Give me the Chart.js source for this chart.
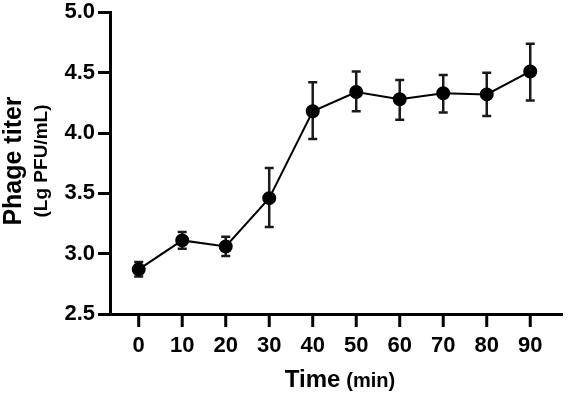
<!DOCTYPE html>
<html>
<head>
<meta charset="utf-8">
<script src="https://cdn.jsdelivr.net/npm/chart.js@4/dist/chart.umd.min.js"></script>
<style>
  html, body { margin: 0; padding: 0; background: #fff; }
  #wrap { width: 570px; height: 396px; position: relative; }
</style>
</head>
<body>
<div id="wrap"><canvas id="titerChart"></canvas></div>
<script>
const times = [0, 10, 20, 30, 40, 50, 60, 70, 80, 90];
const titer = [2.87, 3.11, 3.06, 3.46, 4.18, 4.34, 4.28, 4.33, 4.32, 4.51];
const errLow = [2.81, 3.04, 2.98, 3.22, 3.95, 4.18, 4.11, 4.17, 4.14, 4.27];
const errHigh = [2.93, 3.18, 3.14, 3.71, 4.42, 4.51, 4.44, 4.48, 4.50, 4.74];
const yTicks = [2.5, 3.0, 3.5, 4.0, 4.5, 5.0];

const FONT = '"Liberation Sans", Arial, sans-serif';

const errorBars = {
  id: 'errorBars',
  beforeDatasetsDraw(chart) {
    const { ctx, scales: { x, y } } = chart;
    ctx.save();
    ctx.strokeStyle = '#1a1a1a';
    ctx.lineWidth = 2.5;
    times.forEach((t, i) => {
      const px = x.getPixelForValue(t);
      const lo = y.getPixelForValue(errLow[i]);
      const hi = y.getPixelForValue(errHigh[i]);
      ctx.beginPath();
      ctx.moveTo(px, lo); ctx.lineTo(px, hi);
      ctx.moveTo(px - 4.5, lo); ctx.lineTo(px + 4.5, lo);
      ctx.moveTo(px - 4.5, hi); ctx.lineTo(px + 4.5, hi);
      ctx.stroke();
    });
    ctx.restore();
  }
};

const axisExtras = {
  id: 'axisExtras',
  afterDraw(chart) {
    const { ctx, chartArea, scales: { x } } = chart;
    ctx.save();
    // detached x tick marks
    ctx.strokeStyle = '#000';
    ctx.lineWidth = 3;
    times.forEach(t => {
      const px = x.getPixelForValue(t);
      ctx.beginPath();
      ctx.moveTo(px, chartArea.bottom + 2);
      ctx.lineTo(px, chartArea.bottom + 13);
      ctx.stroke();
    });
    ctx.fillStyle = '#000';
    // x title
    ctx.textBaseline = 'alphabetic';
    ctx.textAlign = 'left';
    ctx.font = 'bold 24px ' + FONT;
    const w1 = ctx.measureText('Time').width;
    ctx.font = 'bold 20px ' + FONT;
    const w2 = ctx.measureText('(min)').width;
    const gap = 6;
    let sx = 340 - (w1 + gap + w2) / 2;
    ctx.font = 'bold 24px ' + FONT;
    ctx.fillText('Time', sx, 387);
    ctx.font = 'bold 20px ' + FONT;
    ctx.fillText('(min)', sx + w1 + gap, 387);
    // y title
    ctx.translate(0, 161);
    ctx.rotate(-Math.PI / 2);
    ctx.textAlign = 'center';
    ctx.textBaseline = 'middle';
    ctx.font = 'bold 25px ' + FONT;
    ctx.fillText('Phage titer', 0, 14);
    ctx.font = 'bold 19px ' + FONT;
    ctx.fillText('(Lg PFU/mL)', 0, 42);
    ctx.restore();
  }
};

new Chart(document.getElementById('titerChart'), {
  type: 'line',
  data: {
    datasets: [{
      data: times.map((t, i) => ({ x: t, y: titer[i] })),
      borderColor: '#000',
      borderWidth: 2,
      backgroundColor: '#000',
      pointBackgroundColor: '#000',
      pointBorderColor: '#000',
      pointRadius: 6,
      tension: 0
    }]
  },
  options: {
    responsive: true,
    maintainAspectRatio: false,
    animation: false,
    layout: { padding: { top: 0, right: 3, left: 0, bottom: 0 } },
    plugins: { legend: { display: false }, tooltip: { enabled: false } },
    scales: {
      x: {
        type: 'linear',
        min: -6.6,
        max: 97.3,
        afterBuildTicks: s => { s.ticks = times.map(v => ({ value: v })); },
        afterFit: s => { s.height = 82; },
        grid: { display: false },
        border: { display: true, color: '#000', width: 3 },
        ticks: { color: '#000', padding: 11, font: { family: FONT, size: 22, weight: 'bold' } }
      },
      y: {
        min: 2.5,
        max: 5,
        afterBuildTicks: s => { s.ticks = yTicks.map(v => ({ value: v })); },
        afterFit: s => { s.width = 110; },
        grid: { drawOnChartArea: false, tickLength: 12, lineWidth: 3, color: '#000' },
        border: { display: true, color: '#000', width: 3 },
        ticks: {
          color: '#000', padding: 3,
          font: { family: FONT, size: 22, weight: 'bold', lineHeight: 0.85 },
          callback: v => v.toFixed(1)
        }
      }
    }
  },
  plugins: [errorBars, axisExtras]
});
</script>
</body>
</html>
